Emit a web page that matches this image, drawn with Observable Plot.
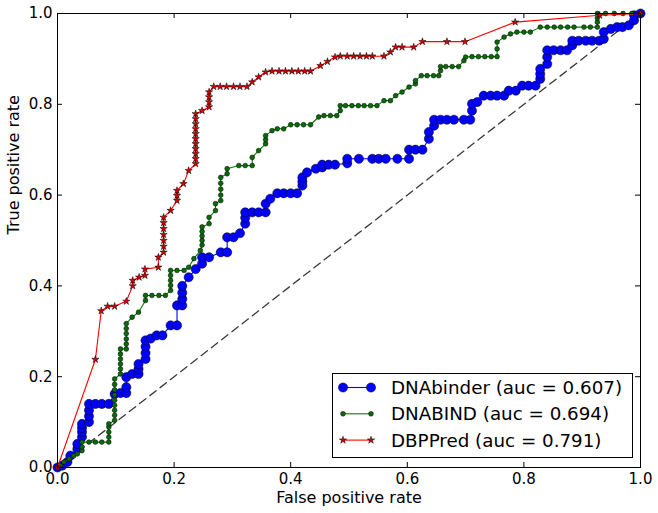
<!DOCTYPE html>
<html>
<head>
<meta charset="utf-8">
<script src="https://cdn.jsdelivr.net/npm/d3@7"></script>
<script src="https://cdn.jsdelivr.net/npm/@observablehq/plot@0.6"></script>
<style>
  html, body { margin: 0; padding: 0; background: #fff; }
  #wrap { position: relative; width: 658px; height: 513px; font-family: "DejaVu Sans", sans-serif; }
  #legend { position: absolute; left: 332px; top: 373px; overflow: visible; }
</style>
</head>
<body>
<div id="wrap"></div>
<script>
// ---------- data ----------
const axisTicks = [0, 0.2, 0.4, 0.6, 0.8, 1.0];
const diagonal = [0, 1];
const seriesNames = ["DNAbinder", "DNABIND", "DBPPred"];
const seriesAuc = [0.607, 0.694, 0.791];

// [false positive rate, true positive rate]
const dnabinderRoc = [
  [0,0],[0.008,0.004],[0.017,0.012],[0.022,0.026],[0.034,0.041],[0.034,0.052],[0.042,0.067],[0.042,0.078],
  [0.042,0.087],[0.042,0.096],[0.054,0.100],[0.054,0.113],[0.054,0.126],[0.054,0.140],[0.065,0.140],[0.076,0.140],
  [0.088,0.140],[0.098,0.162],[0.108,0.164],[0.118,0.164],[0.118,0.177],[0.118,0.199],[0.128,0.206],[0.139,0.206],
  [0.139,0.217],[0.139,0.228],[0.151,0.239],[0.151,0.252],[0.151,0.266],[0.151,0.280],[0.160,0.284],[0.170,0.291],
  [0.180,0.291],[0.194,0.313],[0.205,0.313],[0.205,0.357],[0.214,0.357],[0.214,0.371],[0.214,0.385],[0.214,0.400],
  [0.225,0.419],[0.237,0.437],[0.248,0.449],[0.248,0.463],[0.260,0.463],[0.280,0.474],[0.291,0.474],[0.291,0.507],
  [0.302,0.507],[0.313,0.516],[0.322,0.537],[0.322,0.550],[0.322,0.562],[0.334,0.562],[0.345,0.562],[0.357,0.562],
  [0.357,0.581],[0.365,0.592],[0.377,0.604],[0.388,0.604],[0.400,0.604],[0.411,0.604],[0.420,0.621],[0.420,0.630],
  [0.420,0.639],[0.428,0.650],[0.443,0.658],[0.454,0.661],[0.454,0.667],[0.465,0.667],[0.476,0.667],[0.497,0.670],
  [0.497,0.680],[0.517,0.680],[0.540,0.680],[0.551,0.680],[0.563,0.680],[0.583,0.680],[0.603,0.680],[0.603,0.700],
  [0.614,0.700],[0.626,0.700],[0.637,0.724],[0.637,0.739],[0.646,0.753],[0.646,0.766],[0.657,0.766],[0.668,0.766],
  [0.680,0.766],[0.697,0.766],[0.708,0.766],[0.711,0.786],[0.711,0.801],[0.720,0.805],[0.731,0.819],[0.743,0.819],
  [0.754,0.819],[0.766,0.819],[0.774,0.830],[0.786,0.830],[0.797,0.841],[0.808,0.841],[0.820,0.841],[0.828,0.856],
  [0.828,0.867],[0.828,0.878],[0.840,0.889],[0.840,0.904],[0.840,0.919],[0.851,0.919],[0.863,0.919],[0.874,0.919],
  [0.883,0.930],[0.883,0.940],[0.894,0.940],[0.906,0.940],[0.917,0.940],[0.929,0.940],[0.937,0.944],[0.937,0.959],
  [0.949,0.966],[0.960,0.970],[0.969,0.970],[0.980,0.974],[0.989,0.985],[0.989,0.996],[1.0,1.0]
];

const dnabindRoc = [
  [0,0],[0.005,0.004],[0.011,0.012],[0.020,0.019],[0.028,0.026],[0.034,0.030],[0.042,0.037],[0.042,0.045],
  [0.042,0.056],[0.054,0.056],[0.065,0.056],[0.076,0.056],[0.088,0.056],[0.088,0.067],[0.088,0.078],[0.088,0.089],
  [0.088,0.096],[0.098,0.104],[0.098,0.115],[0.098,0.126],[0.098,0.137],[0.098,0.148],[0.098,0.160],[0.098,0.171],
  [0.098,0.183],[0.098,0.195],[0.108,0.206],[0.108,0.217],[0.108,0.228],[0.108,0.239],[0.108,0.250],[0.108,0.261],
  [0.118,0.261],[0.118,0.272],[0.118,0.283],[0.118,0.295],[0.118,0.306],[0.118,0.317],[0.128,0.331],[0.139,0.342],
  [0.151,0.368],[0.151,0.379],[0.162,0.379],[0.174,0.379],[0.185,0.379],[0.194,0.390],[0.194,0.401],[0.194,0.412],
  [0.194,0.423],[0.194,0.434],[0.205,0.434],[0.217,0.434],[0.225,0.441],[0.234,0.460],[0.245,0.478],[0.248,0.490],
  [0.248,0.500],[0.248,0.510],[0.248,0.520],[0.248,0.530],[0.260,0.537],[0.260,0.551],[0.271,0.566],[0.271,0.581],
  [0.280,0.588],[0.280,0.600],[0.280,0.613],[0.280,0.626],[0.280,0.639],[0.291,0.647],[0.291,0.658],[0.311,0.665],
  [0.322,0.665],[0.334,0.665],[0.334,0.683],[0.345,0.698],[0.357,0.713],[0.357,0.722],[0.357,0.731],[0.368,0.742],
  [0.377,0.746],[0.388,0.746],[0.400,0.755],[0.411,0.755],[0.422,0.755],[0.434,0.755],[0.448,0.772],[0.457,0.775],
  [0.468,0.775],[0.479,0.775],[0.485,0.786],[0.485,0.797],[0.494,0.797],[0.505,0.797],[0.516,0.797],[0.526,0.797],
  [0.537,0.797],[0.548,0.797],[0.560,0.808],[0.571,0.808],[0.580,0.819],[0.591,0.827],[0.603,0.838],[0.614,0.845],
  [0.614,0.852],[0.624,0.863],[0.634,0.863],[0.645,0.863],[0.654,0.863],[0.657,0.874],[0.657,0.883],[0.666,0.883],
  [0.677,0.883],[0.688,0.883],[0.697,0.896],[0.700,0.904],[0.711,0.905],[0.722,0.905],[0.733,0.905],[0.744,0.905],
  [0.754,0.905],[0.754,0.922],[0.754,0.937],[0.766,0.948],[0.777,0.955],[0.788,0.959],[0.800,0.959],[0.811,0.959],
  [0.828,0.970],[0.840,0.970],[0.852,0.970],[0.863,0.970],[0.875,0.970],[0.886,0.970],[0.903,0.970],[0.914,0.970],
  [0.926,0.970],[0.926,0.981],[0.926,0.990],[0.926,1.0],[0.940,1.0],[0.955,1.0],[0.970,1.0],[0.985,1.0],[1.0,1.0]
];

const dbppredRoc = [
  [0,0],[0.065,0.238],[0.075,0.345],[0.086,0.355],[0.098,0.355],[0.118,0.366],[0.129,0.400],[0.129,0.412],
  [0.140,0.419],[0.150,0.423],[0.150,0.437],[0.173,0.441],[0.173,0.463],[0.182,0.474],[0.182,0.487],[0.182,0.500],
  [0.182,0.513],[0.182,0.526],[0.182,0.539],[0.182,0.551],[0.194,0.566],[0.205,0.588],[0.205,0.599],[0.205,0.610],
  [0.216,0.625],[0.225,0.654],[0.237,0.669],[0.237,0.680],[0.237,0.691],[0.237,0.702],[0.237,0.713],[0.237,0.724],
  [0.237,0.735],[0.237,0.746],[0.237,0.757],[0.237,0.768],[0.237,0.779],[0.248,0.786],[0.260,0.794],[0.260,0.805],
  [0.260,0.816],[0.260,0.827],[0.268,0.839],[0.279,0.839],[0.290,0.839],[0.302,0.839],[0.313,0.839],[0.325,0.839],
  [0.334,0.849],[0.345,0.860],[0.357,0.871],[0.368,0.873],[0.380,0.873],[0.391,0.873],[0.402,0.873],[0.413,0.873],
  [0.424,0.873],[0.434,0.873],[0.451,0.885],[0.463,0.894],[0.476,0.904],[0.485,0.906],[0.497,0.906],[0.508,0.906],
  [0.519,0.906],[0.530,0.906],[0.540,0.906],[0.560,0.906],[0.571,0.915],[0.580,0.926],[0.591,0.926],[0.611,0.926],
  [0.626,0.938],[0.668,0.938],[0.699,0.938],[0.785,0.981],[0.930,0.996],[1.0,1.0]
];

// ---------- chart ----------
const W = 658, H = 513, mL = 57, mR = 18, mT = 13, mB = 46;
const innerW = W - mL - mR, innerH = H - mT - mB;
const tickLen = 5;
const rows = pts => pts.map(([fpr, tpr]) => ({fpr, tpr}));
const blue = rows(dnabinderRoc), green = rows(dnabindRoc), red = rows(dbppredRoc);

const styles = [
  {line: "#0000ff", fill: "#0000ff", symbol: "circle", r: 4.6},
  {line: "#008000", fill: "#0a6a0a", symbol: "circle", r: 2.4},
  {line: "#ff0000", fill: "#d00000", symbol: "star", r: 2.3}
];
const data = [blue, green, red];

const seriesMarks = data.flatMap((d, i) => [
  Plot.line(d, {x: "fpr", y: "tpr", stroke: styles[i].line, strokeWidth: 1.1}),
  Plot.dot(d, {x: "fpr", y: "tpr", symbol: styles[i].symbol, r: styles[i].r,
               fill: styles[i].fill, stroke: "#000", strokeWidth: 0.5})
]);

const chart = Plot.plot({
  width: W, height: H,
  marginLeft: mL, marginRight: mR, marginTop: mT, marginBottom: mB,
  style: {fontFamily: "DejaVu Sans", fontSize: "15px", background: "#fff", color: "#000", overflow: "visible"},
  x: {domain: [0, 1]},
  y: {domain: [0, 1]},
  marks: [
    Plot.line(diagonal, {x: d => d, y: d => d, stroke: "#3a3a3a", strokeWidth: 1.3, strokeDasharray: "8,5"}),
    ...seriesMarks,
    Plot.frame({stroke: "#000", strokeWidth: 1}),
    Plot.tickX(axisTicks, {x: d => d, insetTop: innerH - tickLen, stroke: "#000"}),
    Plot.tickX(axisTicks, {x: d => d, insetBottom: innerH - tickLen, stroke: "#000"}),
    Plot.tickY(axisTicks, {y: d => d, insetRight: innerW - tickLen, stroke: "#000"}),
    Plot.tickY(axisTicks, {y: d => d, insetLeft: innerW - tickLen, stroke: "#000"}),
    Plot.axisX(axisTicks, {tickSize: 0, tickPadding: 6, tickFormat: d3.format(".1f"), label: null, fontSize: 15}),
    Plot.axisY(axisTicks, {tickSize: 0, tickPadding: 5, tickFormat: d3.format(".1f"), label: null, fontSize: 15}),
    Plot.text(["False positive rate"], {text: d => d, frameAnchor: "bottom", lineAnchor: "middle", dy: 30, fontSize: 16}),
    Plot.text(["True positive rate"], {text: d => d, frameAnchor: "left", lineAnchor: "middle", dx: -44, dy: -6, rotate: -90, fontSize: 16})
  ]
});
document.getElementById("wrap").appendChild(chart);

// ---------- legend (overlay inside the axes, lower right) ----------
const legW = 300, legH = 84, rowGap = 26.3, firstRow = 14.5;
const legend = d3.select("#wrap").append("svg")
  .attr("id", "legend").attr("width", legW + 1).attr("height", legH + 1);
legend.append("rect").attr("x", 0.5).attr("y", 0.5).attr("width", legW).attr("height", legH)
  .attr("fill", "#fff").attr("stroke", "#000").attr("stroke-width", 1);
seriesNames.forEach((name, i) => {
  const y = firstRow + i * rowGap, s = styles[i];
  const g = legend.append("g");
  g.append("line").attr("x1", 11).attr("x2", 39).attr("y1", y).attr("y2", y)
    .attr("stroke", s.line).attr("stroke-width", 1.1);
  const sym = d3.symbol(s.symbol === "star" ? d3.symbolStar : d3.symbolCircle, Math.PI * s.r * s.r);
  [11, 39].forEach(x => g.append("path").attr("d", sym()).attr("transform", `translate(${x},${y})`)
    .attr("fill", s.fill).attr("stroke", "#000").attr("stroke-width", 0.5));
  g.append("text").attr("x", 59).attr("y", y).attr("dy", "0.35em")
    .attr("font-family", "DejaVu Sans").attr("font-size", 18.3).attr("fill", "#000")
    .text(`${name} (auc = ${seriesAuc[i].toFixed(3)})`);
});
</script>
</body>
</html>
